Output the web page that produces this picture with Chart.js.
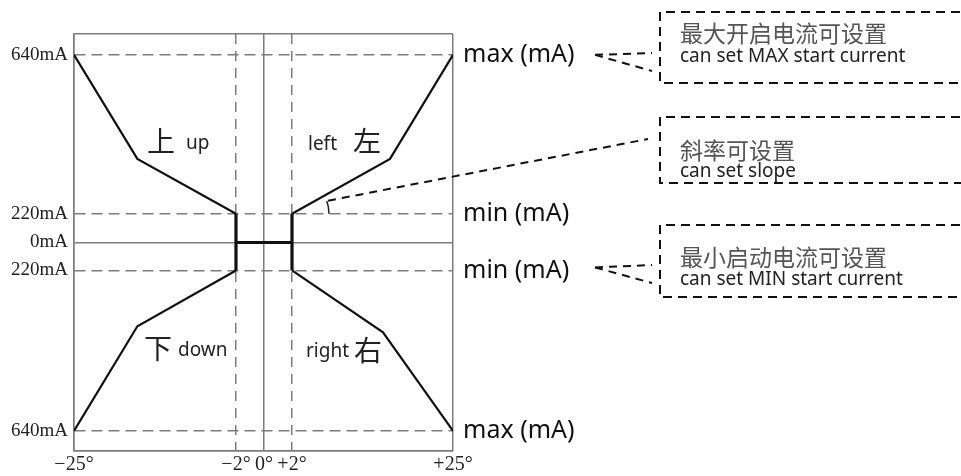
<!DOCTYPE html>
<html>
<head>
<meta charset="utf-8">
<script src="https://cdn.jsdelivr.net/npm/chart.js@4.4.1/dist/chart.umd.min.js"></script>
<style>
  html, body { margin: 0; padding: 0; background: #fff; }
  canvas { display: block; }
</style>
</head>
<body>
<canvas id="curveChart" width="961" height="476"></canvas>
<script>
// axis ticks: stick angle (deg) and output current (mA)
const angleTicks = [-25, -2, 0, 2, 25];
const angleLabels = ['−25°', '−2°', '0°', '+2°', '+25°'];
const currentTicks = [-700, -640, -220, 0, 220, 640, 700];
const currentLabels = ['', '640mA', '220mA', '0mA', '220mA', '640mA', ''];
const sideLabels = ['', 'max (mA)', 'min (mA)', '', 'min (mA)', 'max (mA)', ''];

// the drawing is not to scale, so each axis is piecewise: value -> share of axis length
const angleBreaks = [-25, -2, 0, 2, 25];
const angleFracs = [0, 0.4274, 0.5013, 0.5752, 1];
const currentBreaks = [-700, -640, -220, 0, 220, 640, 700];
const currentFracs = [0, 0.048, 0.433, 0.5, 0.569, 0.95, 1];

// output curves
const upAngle = [-25, -16, -2];
const upCurrent = [640, 365, 220];
const leftAngle = [2, 16, 25];
const leftCurrent = [220, 365, 640];
const downAngle = [-25, -16, -2];
const downCurrent = [-640, -366, -220];
const rightAngle = [2, 15, 25];
const rightCurrent = [-220, -382, -640];
// dead band around centre
const deadAngle = [-2, -2, -2, 2, 2, 2];
const deadCurrent = [220, -220, 0, 0, 220, -220];

const dashedAngles = [-2, 2];
const dashedCurrents = [-640, -220, 220, 640];

const zip = (xs, ys) => xs.map((x, i) => ({ x: x, y: ys[i] }));

class BreakScale extends Chart.LinearScale {
    breaks() {
        return this.axis === 'x' ? [angleBreaks, angleFracs] : [currentBreaks, currentFracs];
    }
    buildTicks() {
        const vals = this.axis === 'x' ? angleTicks : currentTicks;
        return vals.map(v => ({ value: v }));
    }
    getPixelForValue(value) {
        const [b, f] = this.breaks();
        let i = 0;
        while (i < b.length - 2 && value > b[i + 1]) i++;
        const t = f[i] + (value - b[i]) / (b[i + 1] - b[i]) * (f[i + 1] - f[i]);
        return this.getPixelForDecimal(t);
    }
    getValueForPixel(pixel) {
        const [b, f] = this.breaks();
        const t = this.getDecimalForPixel(pixel);
        let i = 0;
        while (i < f.length - 2 && t > f[i + 1]) i++;
        return b[i] + (t - f[i]) / (f[i + 1] - f[i]) * (b[i + 1] - b[i]);
    }
}
BreakScale.id = 'breaks';
BreakScale.defaults = Chart.LinearScale.defaults;
Chart.register(BreakScale);

const gridGray = '#7c7c7c';

function dashedLine(ctx, pts, dash) {
    ctx.setLineDash(dash);
    ctx.beginPath();
    ctx.moveTo(pts[0][0], pts[0][1]);
    for (let i = 1; i < pts.length; i++) ctx.lineTo(pts[i][0], pts[i][1]);
    ctx.stroke();
}

// callouts, leader lines and quadrant names
const notesPlugin = {
    id: 'notes',
    afterDraw(chart) {
        const ctx = chart.ctx;
        const xs = chart.scales.x, ys = chart.scales.y;
        ctx.save();

        // slope angle mark
        const kx = xs.getPixelForValue(2), ky = ys.getPixelForValue(220);
        ctx.strokeStyle = '#222';
        ctx.lineWidth = 1.5;
        ctx.setLineDash([]);
        ctx.beginPath();
        ctx.arc(kx, ky, 37, -0.35, 0);
        ctx.stroke();

        // leaders
        ctx.strokeStyle = '#111';
        ctx.lineWidth = 2;
        const dash = [8, 6];
        const yMax = ys.getPixelForValue(640), yMin = ys.getPixelForValue(-220);
        dashedLine(ctx, [[595, yMax], [652, 53]], dash);
        dashedLine(ctx, [[595, yMax], [652, 71]], dash);
        dashedLine(ctx, [[595, yMin - 3], [652, 265]], dash);
        dashedLine(ctx, [[595, yMin - 3], [652, 283]], dash);
        dashedLine(ctx, [[kx + 36, ky - 13], [648, 139]], dash);

        // boxes
        const boxes = [[12, 83], [117, 183], [225, 297]];
        boxes.forEach(([t, b]) => dashedLine(ctx, [[975, t], [660, t], [660, b], [975, b]], [9, 6]));

        // box text
        const cjk = "'Noto Sans CJK SC', sans-serif";
        const lat = "'Noto Sans', 'Open Sans', sans-serif";
        ctx.textAlign = 'left';
        ctx.textBaseline = 'middle';
        const notes = [
            ['最大开启电流可设置', 'can set MAX start current', 33, 57],
            ['斜率可设置', 'can set slope', 150, 172],
            ['最小启动电流可设置', 'can set MIN start current', 257, 280]
        ];
        notes.forEach(([zh, en, y1, y2]) => {
            ctx.fillStyle = '#555';
            ctx.font = '23px ' + cjk;
            ctx.fillText(zh, 680, y1);
            ctx.fillStyle = '#222';
            ctx.font = '19px ' + lat;
            ctx.fillText(en, 680, y2);
        });

        // quadrant names
        ctx.fillStyle = '#222';
        ctx.textAlign = 'center';
        ctx.font = '28px ' + cjk;
        ctx.fillText('上', 161, 141);
        ctx.fillText('左', 367, 141);
        ctx.fillText('下', 158, 348);
        ctx.fillText('右', 368, 350);
        ctx.textAlign = 'left';
        ctx.textBaseline = 'alphabetic';
        ctx.font = '19px ' + lat;
        ctx.fillText('up', 186, 149);
        ctx.fillText('left', 308, 150);
        ctx.fillText('down', 178, 356);
        ctx.fillText('right', 306, 357);
        ctx.restore();
    }
};

const curveStyle = { borderColor: '#111', borderWidth: 2.2, pointRadius: 0, tension: 0, fill: false };

new Chart(document.getElementById('curveChart'), {
    type: 'line',
    data: {
        datasets: [
            { data: zip(upAngle, upCurrent), ...curveStyle },
            { data: zip(leftAngle, leftCurrent), ...curveStyle },
            { data: zip(downAngle, downCurrent), ...curveStyle },
            { data: zip(rightAngle, rightCurrent), ...curveStyle },
            { data: zip(deadAngle, deadCurrent), ...curveStyle, borderWidth: 3.2 }
        ]
    },
    options: {
        responsive: false,
        animation: false,
        layout: { padding: { top: 34, right: 368, left: 0, bottom: 0 } },
        plugins: { legend: { display: false }, tooltip: { enabled: false } },
        scales: {
            x: {
                type: 'breaks',
                min: -25, max: 25,
                afterFit: s => { s.height = 24; },
                grid: { color: gridGray, lineWidth: 1.5, drawTicks: false },
                border: {
                    color: gridGray, width: 1.5,
                    dash: c => (c.tick && dashedAngles.includes(c.tick.value)) ? [10, 7] : []
                },
                ticks: {
                    autoSkip: false, maxRotation: 0, padding: 2, color: '#222',
                    font: { family: "'Liberation Serif', serif", size: 20 },
                    callback: (v, i) => angleLabels[i]
                }
            },
            y: {
                type: 'breaks',
                min: -700, max: 700,
                afterFit: s => { s.width = 74; },
                grid: { color: gridGray, lineWidth: 1.5, drawTicks: false },
                border: {
                    color: gridGray, width: 1.5,
                    dash: c => (c.tick && dashedCurrents.includes(c.tick.value)) ? [11, 6] : []
                },
                ticks: {
                    autoSkip: false, padding: 6, color: '#222',
                    font: { family: "'Liberation Serif', serif", size: 19 },
                    callback: (v, i) => currentLabels[i]
                }
            },
            y2: {
                type: 'breaks',
                position: 'right',
                min: -700, max: 700,
                afterFit: s => { s.width = 140; },
                grid: { display: false, drawTicks: false },
                border: { display: false },
                ticks: {
                    autoSkip: false, padding: 10, color: '#111',
                    font: { family: "'Noto Sans', sans-serif", size: 25 },
                    callback: (v, i) => sideLabels[i]
                }
            }
        }
    },
    plugins: [notesPlugin]
});
</script>
</body>
</html>
